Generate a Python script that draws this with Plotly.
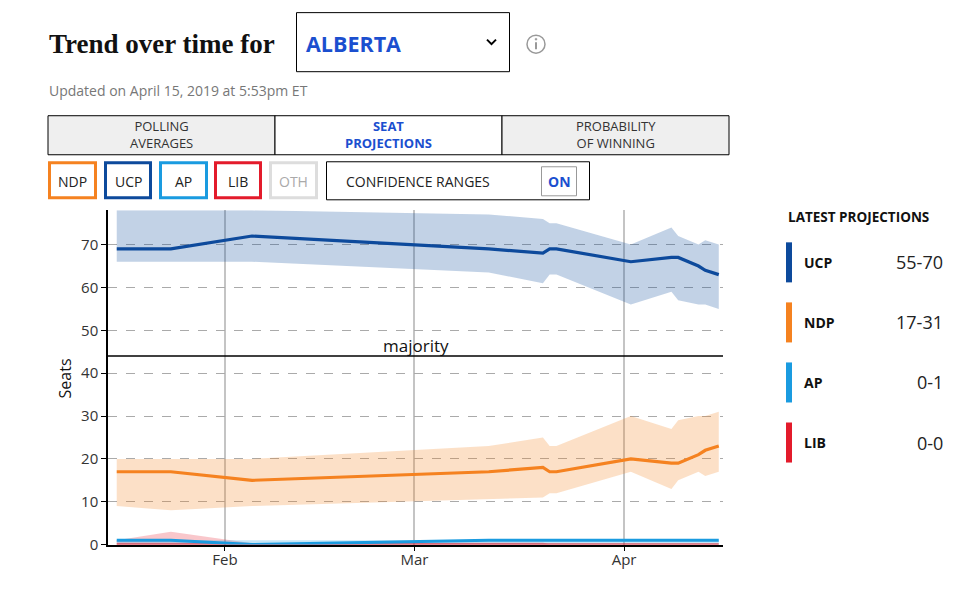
import plotly.graph_objects as go

# ---------------- data ----------------
dates = ["2019-01-16", "2019-01-24", "2019-02-05", "2019-03-12", "2019-03-20",
         "2019-03-21", "2019-03-22", "2019-04-02", "2019-04-08", "2019-04-09",
         "2019-04-12", "2019-04-13", "2019-04-15"]

ucp_mid = [69, 69, 72, 69, 68, 69, 69, 66, 67, 67, 65, 64, 63]
ucp_low = [66, 66, 66, 63.5, 61, 63, 63, 56, 59, 57, 56, 56, 55]
ucp_high = [78, 78, 78, 77, 76, 75, 75, 70, 74, 72, 70, 71, 70]

ndp_mid = [17, 17, 15, 17, 18, 17, 17, 20, 19, 19, 21, 22, 23]
ndp_low = [9, 8, 9, 10.7, 11, 12, 12, 17, 13, 15, 17, 16, 17]
ndp_high = [20, 20, 20, 23, 25, 23, 23, 30, 27, 29, 30, 30, 31]

ap_mid = [1, 1, 0, 1, 1, 1, 1, 1, 1, 1, 1, 1, 1]
ap_low = [0, 0, 0, 0, 0, 0, 0, 0, 0, 0, 0, 0, 0]
ap_high = [1, 1, 1, 1, 1, 1, 1, 1, 1, 1, 1, 1, 1]

lib_mid = [0, 0, 0, 0, 0, 0, 0, 0, 0, 0, 0, 0, 0]
lib_low = [0, 0, 0, 0, 0, 0, 0, 0, 0, 0, 0, 0, 0]
lib_high = [1, 3, 0.3, 0.5, 0.5, 0, 0, 0, 0, 0, 0, 0, 0]

majority = 44
y_ticks = [0, 10, 20, 30, 40, 50, 60, 70]
x_tickvals = ["2019-02-01", "2019-03-01", "2019-04-01"]
x_ticktext = ["Feb", "Mar", "Apr"]

tab_labels = [("POLLING", "AVERAGES"), ("SEAT", "PROJECTIONS"), ("PROBABILITY", "OF WINNING")]
party_buttons = ["NDP", "UCP", "AP", "LIB", "OTH"]
panel_parties = ["UCP", "NDP", "AP", "LIB"]

# ---------------- styles ----------------
COL = {"UCP": "#0d4a9c", "NDP": "#f58220", "AP": "#1a9be0", "LIB": "#e31b2b", "OTH": "#dddddd"}
BAND = {"UCP": "rgba(13,74,156,0.25)", "NDP": "rgba(245,130,32,0.25)",
        "AP": "rgba(26,155,224,0.25)", "LIB": "rgba(232,32,46,0.25)"}
BLUE_TXT = "#1b4fcf"
FONT = "Open Sans"

# the page body has an 8px margin; figure sized to fit inside the window
OFF = 8
W, H = 956, 576
KY = 1 / 0.9835  # vertical compensation for the capture


def X(px):
    return (px - OFF) / W


def Y(py):
    return 1 - (py * KY - OFF) / H


series = {
    "UCP": (ucp_low, ucp_mid, ucp_high),
    "NDP": (ndp_low, ndp_mid, ndp_high),
    "AP": (ap_low, ap_mid, ap_high),
    "LIB": (lib_low, lib_mid, lib_high),
}

fig = go.Figure()

# bands
for p in ["LIB", "AP", "NDP", "UCP"]:
    lo, mid, hi = series[p]
    fig.add_trace(go.Scatter(x=dates, y=lo, mode="lines", line=dict(width=0),
                             hoverinfo="skip", showlegend=False))
    fig.add_trace(go.Scatter(x=dates, y=hi, mode="lines", line=dict(width=0),
                             fill="tonexty", fillcolor=BAND[p],
                             hoverinfo="skip", showlegend=False))
# lines
for p, w in [("LIB", 2), ("AP", 3), ("NDP", 3.2), ("UCP", 3.2)]:
    lo, mid, hi = series[p]
    fig.add_trace(go.Scatter(x=dates, y=mid, mode="lines", line=dict(color=COL[p], width=w),
                             hoverinfo="skip", showlegend=False))

shapes = []
ann = []

# majority line
shapes.append(dict(type="line", xref="paper", yref="y", x0=X(108), x1=X(723),
                   y0=majority, y1=majority, line=dict(color="black", width=1.5)))
ann.append(dict(xref="paper", yref="y", x=X(416), y=majority, yshift=-3, text="majority",
                showarrow=False, xanchor="center", yanchor="bottom",
                font=dict(family=FONT, size=17, color="#111")))
ann.append(dict(xref="paper", yref="paper", x=X(65), y=Y(378), text="Seats", textangle=-90,
                showarrow=False, xanchor="center", yanchor="middle",
                font=dict(family=FONT, size=16, color="#111")))

# title
ann.append(dict(xref="paper", yref="paper", x=X(47), y=Y(44), text="<b>Trend over time for</b>",
                showarrow=False, xanchor="left", yanchor="middle",
                font=dict(family="Liberation Serif", size=27, color="#111")))
shapes.append(dict(type="rect", xref="paper", yref="paper", x0=X(296.5), x1=X(509.5),
                   y0=Y(12.5), y1=Y(71.5), line=dict(color="black", width=1)))
ann.append(dict(xref="paper", yref="paper", x=X(304), y=Y(43), text="<b>ALBERTA</b>",
                showarrow=False, xanchor="left", yanchor="middle",
                font=dict(family=FONT, size=21.5, color=BLUE_TXT)))
shapes.append(dict(type="path", xref="paper", yref="paper",
                   path=f"M {X(487)},{Y(39.5)} L {X(491.5)},{Y(44)} L {X(496)},{Y(39.5)}",
                   line=dict(color="black", width=2)))
# info icon
shapes.append(dict(type="circle", xref="paper", yref="paper", x0=X(527), x1=X(545),
                   y0=Y(35), y1=Y(53), line=dict(color="#999", width=1.5)))
shapes.append(dict(type="line", xref="paper", yref="paper", x0=X(536), x1=X(536),
                   y0=Y(42), y1=Y(49), line=dict(color="#999", width=2)))
shapes.append(dict(type="circle", xref="paper", yref="paper", x0=X(535), x1=X(537),
                   y0=Y(38), y1=Y(40), fillcolor="#999", line=dict(color="#999", width=0.5)))

ann.append(dict(xref="paper", yref="paper", x=X(47), y=Y(90),
                text="Updated on April 15, 2019 at 5:53pm ET",
                showarrow=False, xanchor="left", yanchor="middle",
                font=dict(family=FONT, size=14, color="#777")))

# tabs
tab_edges = [48, 275, 502, 729]
tab_fill = ["#efefef", "#ffffff", "#efefef"]
for i in range(3):
    x0, x1 = tab_edges[i], tab_edges[i + 1]
    shapes.append(dict(type="rect", xref="paper", yref="paper", x0=X(x0), x1=X(x1),
                       y0=Y(115.5), y1=Y(154.5), fillcolor=tab_fill[i],
                       line=dict(color="black", width=1), layer="below"))
    cx = (x0 + x1) / 2
    l1, l2 = tab_labels[i]
    if i == 1:
        txt, col = f"<b>{l1}<br>{l2}</b>", BLUE_TXT
    else:
        txt, col = f"{l1}<br>{l2}", "#333"
    ann.append(dict(xref="paper", yref="paper", x=X(cx), y=Y(134.5), text=txt,
                    showarrow=False, xanchor="center", yanchor="middle",
                    font=dict(family=FONT, size=13, color=col)))

# party buttons
btn_x = [(48, 97), (104, 152), (159, 208), (214, 262), (269, 318)]
for name, (x0, x1) in zip(party_buttons, btn_x):
    shapes.append(dict(type="rect", xref="paper", yref="paper", x0=X(x0 + 1.5), x1=X(x1 - 1.5),
                       y0=Y(162.5), y1=Y(197.5), line=dict(color=COL[name], width=3)))
    ann.append(dict(xref="paper", yref="paper", x=X((x0 + x1) / 2), y=Y(181), text=name,
                    showarrow=False, xanchor="center", yanchor="middle",
                    font=dict(family=FONT, size=14, color="#aaa" if name == "OTH" else "#222")))

# confidence ranges toggle
shapes.append(dict(type="rect", xref="paper", yref="paper", x0=X(326.5), x1=X(589.5),
                   y0=Y(161.5), y1=Y(199.5), line=dict(color="black", width=1)))
ann.append(dict(xref="paper", yref="paper", x=X(344), y=Y(181), text="CONFIDENCE RANGES",
                showarrow=False, xanchor="left", yanchor="middle",
                font=dict(family=FONT, size=14, color="#222")))
shapes.append(dict(type="rect", xref="paper", yref="paper", x0=X(541.5), x1=X(576.5),
                   y0=Y(166.5), y1=Y(195.5), line=dict(color="#999", width=1)))
ann.append(dict(xref="paper", yref="paper", x=X(559), y=Y(181), text="<b>ON</b>",
                showarrow=False, xanchor="center", yanchor="middle",
                font=dict(family=FONT, size=14, color=BLUE_TXT)))

# right panel
ann.append(dict(xref="paper", yref="paper", x=X(786), y=Y(217), text="<b>LATEST PROJECTIONS</b>",
                showarrow=False, xanchor="left", yanchor="middle",
                font=dict(family=FONT, size=13.5, color="#111")))
row_top = [242, 302, 362, 422]
for p, top in zip(panel_parties, row_top):
    lo, mid, hi = series[p]
    shapes.append(dict(type="rect", xref="paper", yref="paper", x0=X(786), x1=X(792),
                       y0=Y(top), y1=Y(top + 40), fillcolor=COL[p], line=dict(width=0)))
    ann.append(dict(xref="paper", yref="paper", x=X(802), y=Y(top + 20), text=f"<b>{p}</b>",
                    showarrow=False, xanchor="left", yanchor="middle",
                    font=dict(family=FONT, size=14, color="#111")))
    ann.append(dict(xref="paper", yref="paper", x=X(945), y=Y(top + 20),
                    text=f"{lo[-1]:g}-{hi[-1]:g}",
                    showarrow=False, xanchor="right", yanchor="middle",
                    font=dict(family=FONT, size=18, color="#222")))

fig.update_layout(
    width=W, height=H,
    margin=dict(l=0, r=0, t=0, b=0),
    paper_bgcolor="white", plot_bgcolor="white",
    showlegend=False,
    shapes=shapes,
    annotations=ann,
    font=dict(family=FONT),
    xaxis=dict(domain=[X(108), X(723)], type="date",
               range=["2019-01-14 17:00", "2019-04-15 15:00"],
               tickvals=x_tickvals, ticktext=x_ticktext,
               showgrid=True, gridcolor="#c4c4c4", gridwidth=1.5,
               ticks="outside", ticklen=5, tickcolor="black", tickwidth=1,
               ticklabelstandoff=-4,
               showline=True, linecolor="black", linewidth=1.5, zeroline=False,
               tickfont=dict(family=FONT, size=15, color="#333"), fixedrange=True),
    yaxis=dict(domain=[Y(544), Y(210)], range=[0, 78], tickvals=y_ticks,
               showgrid=True, gridcolor="#aaaaaa", griddash="dash", gridwidth=1,
               ticks="outside", ticklen=5, tickcolor="black", tickwidth=1,
               showline=True, linecolor="black", linewidth=1.5, zeroline=False,
               tickfont=dict(family=FONT, size=15, color="#333"), fixedrange=True),
)

fig.write_html("out.html", config={"displayModeBar": False})
